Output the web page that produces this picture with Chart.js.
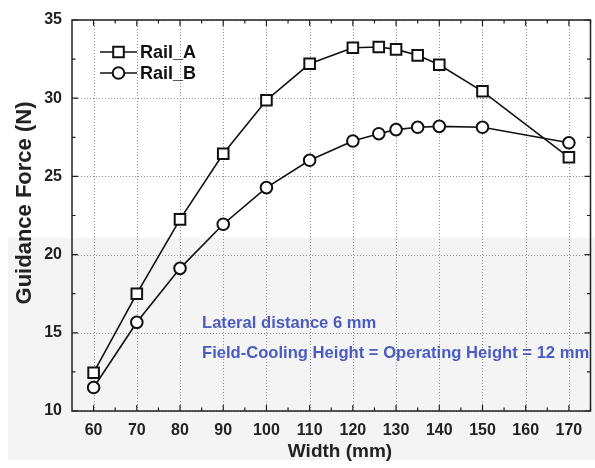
<!DOCTYPE html>
<html>
<head>
<meta charset="utf-8">
<script src="https://cdn.jsdelivr.net/npm/chart.js@4.4.1/dist/chart.umd.min.js"></script>
<style>
  html, body { margin: 0; padding: 0; background: #fff; overflow: hidden; }
  #wrap { width: 600px; height: 468px; }
</style>
</head>
<body>
<div id="wrap"><canvas id="c" width="600" height="468"></canvas></div>
<script>
const widths = [60, 70, 80, 90, 100, 110, 120, 126, 130, 135, 140, 150, 170];
const railA = [12.45, 17.5, 22.25, 26.45, 29.87, 32.2, 33.23, 33.27, 33.12, 32.74, 32.14, 30.44, 26.22];
const railB = [11.5, 15.67, 19.12, 21.94, 24.28, 26.03, 27.26, 27.73, 27.99, 28.14, 28.2, 28.14, 27.15];
const xTicks = [60, 70, 80, 90, 100, 110, 120, 130, 140, 150, 160, 170];
const yTicks = [10, 15, 20, 25, 30, 35];
const seriesNames = ['Rail_A', 'Rail_B'];
const notes = ['Lateral distance 6 mm', 'Field-Cooling Height = Operating Height = 12 mm'];
const xTitle = 'Width (mm)';
const yTitle = 'Guidance Force (N)';

const FONT = '"Liberation Sans", Arial, sans-serif';

const decor = {
  id: 'decor',
  beforeDraw(chart) {
    const ctx = chart.ctx;
    ctx.save();
    ctx.fillStyle = '#ffffff';
    ctx.fillRect(0, 0, chart.width, chart.height);
    ctx.fillStyle = '#f4f4f4';
    ctx.fillRect(8, 238, chart.width - 8, 222);
    ctx.restore();
  },
  beforeDatasetsDraw(chart) {
    const ctx = chart.ctx;
    const a = chart.chartArea;
    const xs = chart.scales.x, ys = chart.scales.y;
    ctx.save();
    // dotted grid
    ctx.strokeStyle = '#8f8f8f';
    ctx.lineWidth = 1;
    ctx.setLineDash([1, 2]);
    ctx.beginPath();
    xs.ticks.forEach(t => {
      const x = Math.round(xs.getPixelForValue(t.value)) + 0.5;
      ctx.moveTo(x, a.top); ctx.lineTo(x, a.bottom);
    });
    ys.ticks.forEach(t => {
      const y = Math.round(ys.getPixelForValue(t.value)) + 0.5;
      ctx.moveTo(a.left, y); ctx.lineTo(a.right, y);
    });
    ctx.stroke();
    ctx.setLineDash([]);
    // annotations
    ctx.font = 'bold 16.6px ' + FONT;
    ctx.fillStyle = '#4a5bc2';
    ctx.textBaseline = 'middle';
    ctx.textAlign = 'left';
    ctx.fillText(notes[0], 202, 323);
    ctx.fillText(notes[1], 202, 353);
    // frame
    ctx.strokeStyle = '#222';
    ctx.lineWidth = 1.5;
    ctx.strokeRect(a.left, a.top, a.right - a.left, a.bottom - a.top);
    // ticks inward
    ctx.lineWidth = 1.2;
    ctx.beginPath();
    for (let v = 60; v <= 175; v += 5) {
      const x = xs.getPixelForValue(v);
      const len = (v % 10 === 0) ? 6 : 3.5;
      ctx.moveTo(x, a.bottom); ctx.lineTo(x, a.bottom - len);
      ctx.moveTo(x, a.top); ctx.lineTo(x, a.top + len);
    }
    for (let v = 10; v <= 35; v += 2.5) {
      const y = ys.getPixelForValue(v);
      const len = (v % 5 === 0) ? 6 : 3.5;
      ctx.moveTo(a.left, y); ctx.lineTo(a.left + len, y);
      ctx.moveTo(a.right, y); ctx.lineTo(a.right - len, y);
    }
    ctx.stroke();
    // axis titles
    ctx.fillStyle = '#222';
    ctx.textAlign = 'center';
    ctx.textBaseline = 'middle';
    ctx.font = 'bold 19px ' + FONT;
    ctx.fillText(xTitle, 340, 452);
    ctx.save();
    ctx.translate(25, 203);
    ctx.rotate(-Math.PI / 2);
    ctx.font = 'bold 22px ' + FONT;
    ctx.fillText(yTitle, 0, 0);
    ctx.restore();
    ctx.restore();
  },
  afterDraw(chart) {
    const ctx = chart.ctx;
    ctx.save();
    const rows = [{y: 52, style: 'rect', r: 7.5}, {y: 73, style: 'circle', r: 5.8}];
    rows.forEach((row, i) => {
      ctx.strokeStyle = '#111';
      ctx.lineWidth = 1.6;
      ctx.beginPath();
      ctx.moveTo(100, row.y); ctx.lineTo(137, row.y);
      ctx.stroke();
      ctx.fillStyle = '#fff';
      ctx.lineWidth = 2;
      Chart.helpers.drawPoint(ctx, {pointStyle: row.style, radius: row.r, borderWidth: 2}, 118.5, row.y);
      ctx.fillStyle = '#111';
      ctx.font = 'bold 18px ' + FONT;
      ctx.textAlign = 'left';
      ctx.textBaseline = 'middle';
      ctx.fillText(seriesNames[i], 140, row.y + 1);
    });
    ctx.restore();
  }
};

new Chart(document.getElementById('c'), {
  type: 'line',
  data: {
    labels: widths,
    datasets: [
      {
        label: seriesNames[0],
        data: widths.map((w, i) => ({x: w, y: railA[i]})),
        borderColor: '#111', borderWidth: 1.6,
        pointStyle: 'rect', pointRadius: 7.5, pointBorderWidth: 2,
        pointBackgroundColor: '#fff', pointBorderColor: '#111',
        tension: 0, fill: false
      },
      {
        label: seriesNames[1],
        data: widths.map((w, i) => ({x: w, y: railB[i]})),
        borderColor: '#111', borderWidth: 1.6,
        pointStyle: 'circle', pointRadius: 5.8, pointBorderWidth: 2,
        pointBackgroundColor: '#fff', pointBorderColor: '#111',
        tension: 0, fill: false
      }
    ]
  },
  options: {
    responsive: false,
    devicePixelRatio: 1,
    animation: false,
    layout: { padding: { left: 0, top: 20, right: 0, bottom: 0 } },
    plugins: { legend: { display: false }, title: { display: false }, tooltip: { enabled: false } },
    scales: {
      x: {
        type: 'linear', min: 55, max: 175,
        afterBuildTicks(s) { s.ticks = xTicks.map(v => ({value: v})); },
        afterFit(s) { s.height = 57; },
        grid: { display: false, drawTicks: false },
        border: { display: false },
        ticks: { padding: 10, color: '#222', font: { family: FONT, size: 16, weight: 'bold' }, maxRotation: 0 },
        title: { display: false }
      },
      y: {
        type: 'linear', min: 10, max: 35,
        afterBuildTicks(s) { s.ticks = yTicks.map(v => ({value: v})); },
        afterFit(s) { s.width = 72; },
        grid: { display: false, drawTicks: false },
        border: { display: false },
        ticks: { padding: 10, color: '#222', font: { family: FONT, size: 16, weight: 'bold' } },
        title: { display: false }
      }
    }
  },
  plugins: [decor]
});
</script>
</body>
</html>
